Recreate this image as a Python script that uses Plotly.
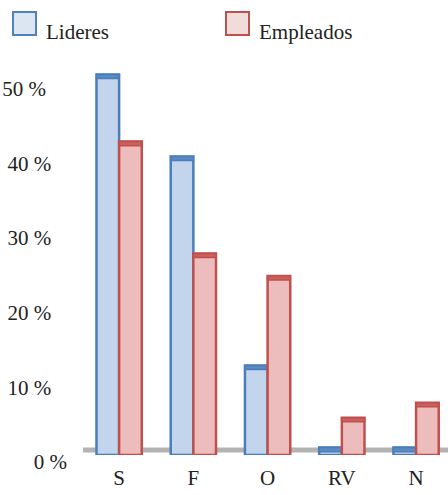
import plotly.graph_objects as go

categories = ["S", "F", "O", "RV", "N"]
lideres = [51, 40, 12, 1, 1]
empleados = [42, 27, 24, 5, 7]
tick_vals = [0, 10, 20, 30, 40, 50]
tick_text = ["0 %", "10 %\u00a0\u00a0\u00a0", "20 %\u00a0\u00a0\u00a0", "30 %\u00a0\u00a0\u00a0",
             "40 %\u00a0\u00a0\u00a0", "50 %\u00a0\u00a0\u00a0\u00a0"]

W, H = 448, 495
ML, MR, MT, MB = 82, 0, 52, 40
Y_MAX = 54
CAP = 0.55  # height of the darker top face, in axis units

blue_fill, blue_edge, blue_cap = "#c3d5ec", "#4a7ebb", "#5b8ac4"
red_fill, red_edge, red_cap = "#edbcbc", "#c0504d", "#c9605d"
SERIF = "Liberation Serif, Times New Roman, serif"

fig = go.Figure()

for name, vals, fill, edge, cap in [
    ("Lideres", lideres, blue_fill, blue_edge, blue_cap),
    ("Empleados", empleados, red_fill, red_edge, red_cap),
]:
    fig.add_trace(go.Bar(
        x=categories, y=vals, name=name, offsetgroup=name,
        marker=dict(color=fill, line=dict(color=edge, width=2.5)),
        showlegend=False,
    ))
    fig.add_trace(go.Bar(
        x=categories, y=[CAP] * len(vals), base=[v - CAP for v in vals],
        offsetgroup=name, marker=dict(color=cap, line=dict(color=edge, width=1.5)),
        showlegend=False, hoverinfo="skip",
    ))

# floor line just above the bar bases
fig.add_shape(type="line", xref="paper", yref="y", ysizemode="pixel", yanchor=0,
              x0=0.003, x1=1, y0=5, y1=5,
              line=dict(color="#b3b3b3", width=5), layer="below")

# legend drawn as boxes and labels above the plot
def px_to_paper_x(px):
    return (px - ML) / (W - ML - MR)

def px_to_paper_y(py):
    return (H - MB - py) / (H - MT - MB)

legend_items = [("Lideres", 13, "#dce6f2", "#4f81bd"), ("Empleados", 226, "#f2dcdb", "#c0504d")]
for label, left, fill, edge in legend_items:
    fig.add_shape(type="rect", xref="paper", yref="paper",
                  x0=px_to_paper_x(left), x1=px_to_paper_x(left + 23),
                  y0=px_to_paper_y(35), y1=px_to_paper_y(12),
                  fillcolor=fill, line=dict(color=edge, width=2))
    fig.add_annotation(text=label, xref="paper", yref="paper",
                       x=px_to_paper_x(left + 31), y=px_to_paper_y(32),
                       xanchor="left", yanchor="middle", showarrow=False,
                       font=dict(family=SERIF, size=21, color="#222222"))

fig.update_layout(
    width=W, height=H,
    margin=dict(l=ML, r=MR, t=MT, b=MB),
    paper_bgcolor="white", plot_bgcolor="white",
    barmode="group", bargap=0.39, bargroupgap=0.0,
    font=dict(family=SERIF, size=20, color="#222222"),
    showlegend=False,
)
fig.update_xaxes(range=[-0.5, 4.43], showline=False, showgrid=False, zeroline=False,
                 ticks="", ticklabelstandoff=8, tickfont=dict(size=21), automargin=False)
fig.update_yaxes(range=[0, Y_MAX], tickvals=tick_vals, ticktext=tick_text,
                 showline=False, showgrid=False, zeroline=False, ticks="",
                 ticklabelstandoff=14, ticklabelshift=7, tickfont=dict(size=21),
                 automargin=False)

fig.write_html("out.html")
